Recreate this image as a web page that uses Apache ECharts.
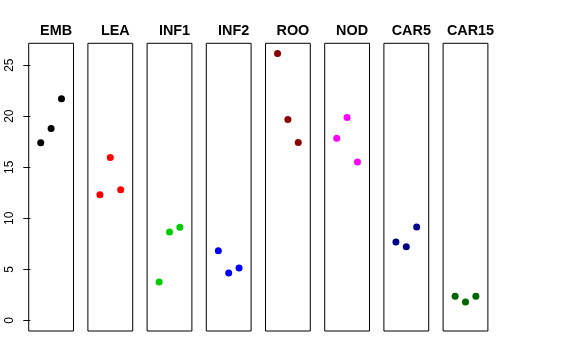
<!DOCTYPE html>
<html><head><meta charset="utf-8">
<script src="https://cdn.jsdelivr.net/npm/echarts@6/dist/echarts.min.js"></script>
<style>html,body{margin:0;padding:0;background:#fff}#c{width:576px;height:360px}</style>
</head><body><div id="c"></div>
<script>
const categories = ['EMB','LEA','INF1','INF2','ROO','NOD','CAR5','CAR15'];
const EMB = [17.4, 18.8, 21.7];
const LEA = [12.3, 15.95, 12.8];
const INF1 = [3.75, 8.65, 9.12];
const INF2 = [6.82, 4.64, 5.13];
const ROO = [26.14, 19.67, 17.41];
const NOD = [17.84, 19.86, 15.52];
const CAR5 = [7.68, 7.22, 9.15];
const CAR15 = [2.35, 1.79, 2.35];
const panelValues = [EMB, LEA, INF1, INF2, ROO, NOD, CAR5, CAR15];
const colors = ['#000000','#FF0000','#00CD00','#0000FF','#8B0000','#FF00FF','#00008B','#006400'];
const yTicks = [0, 5, 10, 15, 20, 25];

const font = 'Liberation Sans, Arial, Helvetica, sans-serif';
const gLeft0 = 28.7, gStep = 59.2, gW = 44.8, gTop = 43.3, gH = 287.7;
const ymin = -1.044, ymax = 27.14;

const grid = [], xAxis = [], yAxis = [], series = [], title = [];
categories.forEach((cat, i) => {
  const l = gLeft0 + i * gStep;
  grid.push({left: l, top: gTop, width: gW, height: gH, show: true, borderColor: '#000', borderWidth: 1, backgroundColor: 'transparent'});
  xAxis.push({type: 'value', gridIndex: i, min: -0.16, max: 4.16, show: false});
  yAxis.push({
    type: 'value', gridIndex: i, min: ymin, max: ymax, show: i === 0,
    axisLine: {show: false},
    splitLine: {show: false},
    axisTick: {show: true, length: 7, lineStyle: {color: '#000'}, customValues: yTicks},
    axisLabel: {show: true, rotate: 90, margin: 13, fontSize: 12, color: '#000', fontFamily: font, customValues: yTicks}
  });
  series.push({
    type: 'scatter', xAxisIndex: i, yAxisIndex: i, symbol: 'circle', symbolSize: 7,
    itemStyle: {color: colors[i], opacity: 1}, silent: true, animation: false,
    data: panelValues[i].map((v, k) => [k + 1, v])
  });
  title.push({text: cat, left: l + gW / 2, top: 19.5, textAlign: 'center',
    textStyle: {fontSize: 14.4, fontWeight: 'bold', color: '#000', fontFamily: font}});
});

const chart = echarts.init(document.getElementById('c'), null, {renderer: 'canvas'});
chart.setOption({animation: false, title, grid, xAxis, yAxis, series});
</script></body></html>
